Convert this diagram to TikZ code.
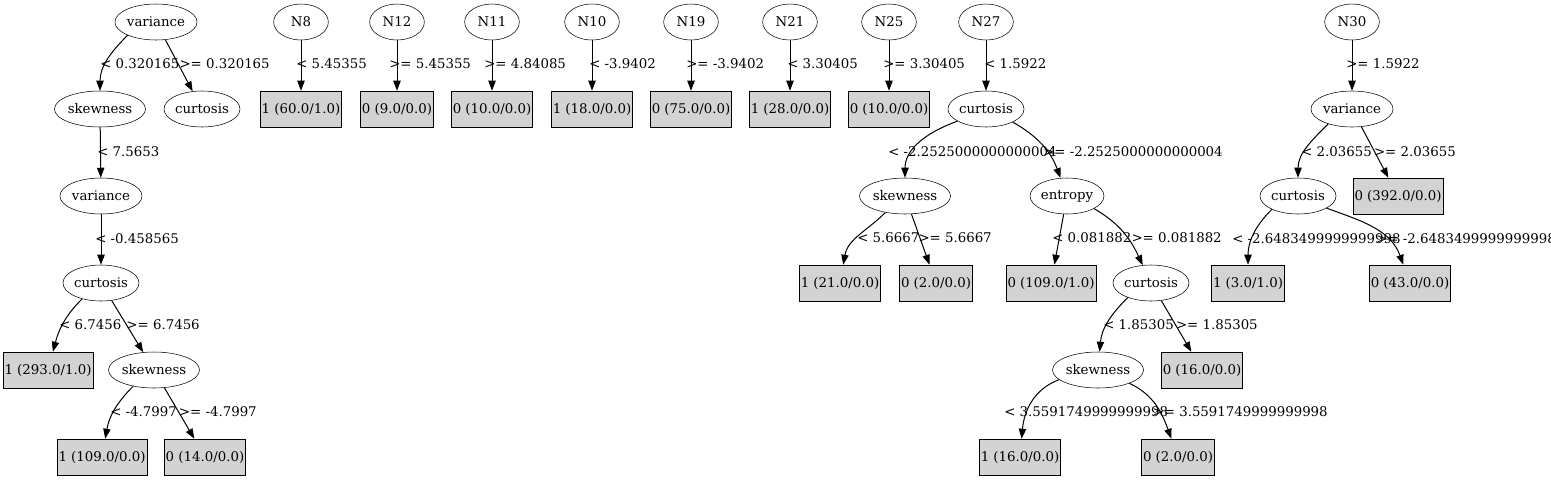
\documentclass[tikz,border=0pt]{standalone}
\usepackage{fontspec}
\setmainfont{DejaVu Serif}
\usetikzlibrary{shapes.geometric,arrows.meta}
\definecolor{leafgray}{RGB}{211,211,211}

\begin{document}
\begin{tikzpicture}[x=0.75pt,y=0.75pt,
    split/.style={ellipse,draw,inner sep=0pt,minimum width=41pt,minimum height=27pt},
    leaf/.style={rectangle,draw,fill=leafgray,inner xsep=1pt,inner ysep=0pt,minimum height=27pt},
    cond/.style={inner sep=0pt},
    edge/.style={-{Triangle[length=7.5pt,width=5.5pt]},line width=0.75pt}]
  \useasboundingbox (0,0) rectangle (1551,-479);

  % left tree
  \node [split] (var1) at (156,-22) {variance};
  \node [split] (skew1) at (100,-109) {skewness};
  \node [split] (curt1) at (202,-109) {curtosis};
  \node [split] (var2) at (101,-196) {variance};
  \node [split] (curt2) at (101,-283) {curtosis};
  \node [leaf] (leaf293) at (48,-370) {1 (293.0/1.0)};
  \node [split] (skew2) at (154,-370) {skewness};
  \node [leaf] (leaf109a) at (102,-457) {1 (109.0/0.0)};
  \node [leaf] (leaf14) at (205,-457) {0 (14.0/0.0)};

  \draw [edge] (var1.205) to[out=225,in=90] (skew1);
  \draw [edge] (var1) -- (curt1);
  \draw [edge] (skew1) -- (var2);
  \draw [edge] (var2) -- (curt2);
  \draw [edge] (curt2.220) to[out=225,in=75] (leaf293);
  \draw [edge] (curt2) -- (skew2);
  \draw [edge] (skew2.218) to[out=225,in=80] (leaf109a);
  \draw [edge] (skew2) -- (leaf14);

  \node [cond,anchor=west] (c1) at (100,-64) {< 0.320165};
  \node [cond,anchor=east] (c2) at (270,-64) {>= 0.320165};
  \node [cond,anchor=west] (c3) at (97,-152) {< 7.5653};
  \node [cond,anchor=west] (c4) at (95,-239) {< -0.458565};
  \node [cond,anchor=west] (c5) at (59,-325) {< 6.7456};
  \node [cond,anchor=east] (c6) at (200,-325) {>= 6.7456};
  \node [cond,anchor=west] (c7) at (110,-412) {< -4.7997};
  \node [cond,anchor=east] (c8) at (257,-412) {>= -4.7997};

  % single splits
  \node [split] (n8) at (301,-22) {N8};
  \node [split] (n12) at (397,-22) {N12};
  \node [split] (n11) at (492,-22) {N11};
  \node [split] (n10) at (592,-22) {N10};
  \node [split] (n19) at (691,-22) {N19};
  \node [split] (n21) at (790,-22) {N21};
  \node [split] (n25) at (889,-22) {N25};

  \node [leaf] (leaf60) at (301,-109) {1 (60.0/1.0)};
  \node [leaf] (leaf9) at (397,-109) {0 (9.0/0.0)};
  \node [leaf] (leaf10a) at (492,-109) {0 (10.0/0.0)};
  \node [leaf] (leaf18) at (592,-109) {1 (18.0/0.0)};
  \node [leaf] (leaf75) at (691,-109) {0 (75.0/0.0)};
  \node [leaf] (leaf28) at (790,-109) {1 (28.0/0.0)};
  \node [leaf] (leaf10b) at (889,-109) {0 (10.0/0.0)};

  \draw [edge] (n8) -- (leaf60);
  \draw [edge] (n12) -- (leaf9);
  \draw [edge] (n11) -- (leaf10a);
  \draw [edge] (n10) -- (leaf18);
  \draw [edge] (n19) -- (leaf75);
  \draw [edge] (n21) -- (leaf28);
  \draw [edge] (n25) -- (leaf10b);

  \node [cond,anchor=west] (c9) at (296,-64) {< 5.45355};
  \node [cond,anchor=west] (c10) at (389,-64) {>= 5.45355};
  \node [cond,anchor=west] (c11) at (484,-64) {>= 4.84085};
  \node [cond,anchor=west] (c12) at (589,-64) {< -3.9402};
  \node [cond,anchor=west] (c13) at (686,-64) {>= -3.9402};
  \node [cond,anchor=west] (c14) at (787,-64) {< 3.30405};
  \node [cond,anchor=west] (c15) at (883,-64) {>= 3.30405};

  % N27 tree
  \node [split] (n27) at (986,-22) {N27};
  \node [split] (curt3) at (986,-109) {curtosis};
  \node [split] (skew3) at (905,-196) {skewness};
  \node [split] (entr) at (1067,-196) {entropy};
  \node [leaf] (leaf21) at (840,-283) {1 (21.0/0.0)};
  \node [leaf] (leaf2a) at (936,-283) {0 (2.0/0.0)};
  \node [leaf] (leaf109b) at (1051,-283) {0 (109.0/1.0)};
  \node [split] (curt4) at (1151,-283) {curtosis};
  \node [split] (skew4) at (1098,-370) {skewness};
  \node [leaf] (leaf16a) at (1202,-370) {0 (16.0/0.0)};
  \node [leaf] (leaf16b) at (1020,-457) {1 (16.0/0.0)};
  \node [leaf] (leaf2b) at (1178,-457) {0 (2.0/0.0)};

  \draw [edge] (n27) -- (curt3);
  \draw [edge] (curt3.203) to[out=200,in=90] (skew3);
  \draw [edge] (curt3.-26) to[out=-30,in=110] (entr);
  \draw [edge] (skew3.220) to[out=225,in=80] (leaf21);
  \draw [edge] (skew3) -- (leaf2a);
  \draw [edge] (entr) -- (leaf109b);
  \draw [edge] (entr.-25) to[out=-30,in=115] (curt4);
  \draw [edge] (curt4.212) to[out=225,in=85] (skew4);
  \draw [edge] (curt4) -- (leaf16a);
  \draw [edge] (skew4.194) to[out=200,in=85] (leaf16b);
  \draw [edge] (skew4.-23) to[out=-25,in=110] (leaf2b);

  \node [cond,anchor=west] (c16) at (984,-64) {< 1.5922};
  \node [cond,anchor=west] (c17) at (888,-152) {< -2.2525000000000004};
  \node [cond,anchor=east] (c18) at (1223,-152) {>= -2.2525000000000004};
  \node [cond,anchor=west] (c19) at (857,-238) {< 5.6667};
  \node [cond,anchor=east] (c20) at (992,-238) {>= 5.6667};
  \node [cond,anchor=west] (c21) at (1052,-238) {< 0.081882};
  \node [cond,anchor=east] (c22) at (1222,-238) {>= 0.081882};
  \node [cond,anchor=west] (c23) at (1103,-325) {< 1.85305};
  \node [cond,anchor=east] (c24) at (1258,-325) {>= 1.85305};
  \node [cond,anchor=west] (c25) at (1004,-412) {< 3.5591749999999998};
  \node [cond,anchor=east] (c26) at (1328,-412) {>= 3.5591749999999998};

  % N30 tree
  \node [split] (n30) at (1352,-22) {N30};
  \node [split] (var3) at (1352,-109) {variance};
  \node [split] (curt5) at (1298,-196) {curtosis};
  \node [leaf] (leaf392) at (1398,-196) {0 (392.0/0.0)};
  \node [leaf] (leaf3) at (1248,-283) {1 (3.0/1.0)};
  \node [leaf] (leaf43) at (1410,-283) {0 (43.0/0.0)};

  \draw [edge] (n30) -- (var3);
  \draw [edge] (var3.212) to[out=225,in=90] (curt5);
  \draw [edge] (var3) -- (leaf392);
  \draw [edge] (curt5.207) to[out=225,in=90] (leaf3);
  \draw [edge] (curt5.-23) to[out=-20,in=110] (leaf43);

  \node [cond,anchor=west] (c27) at (1346,-64) {>= 1.5922};
  \node [cond,anchor=west] (c28) at (1301,-152) {< 2.03655};
  \node [cond,anchor=east] (c29) at (1456,-152) {>= 2.03655};
  \node [cond,anchor=west] (c30) at (1232,-239) {< -2.6483499999999998};
  \node [cond,anchor=west] (c31) at (1376,-239) {>= -2.6483499999999998};
\end{tikzpicture}
\end{document}
